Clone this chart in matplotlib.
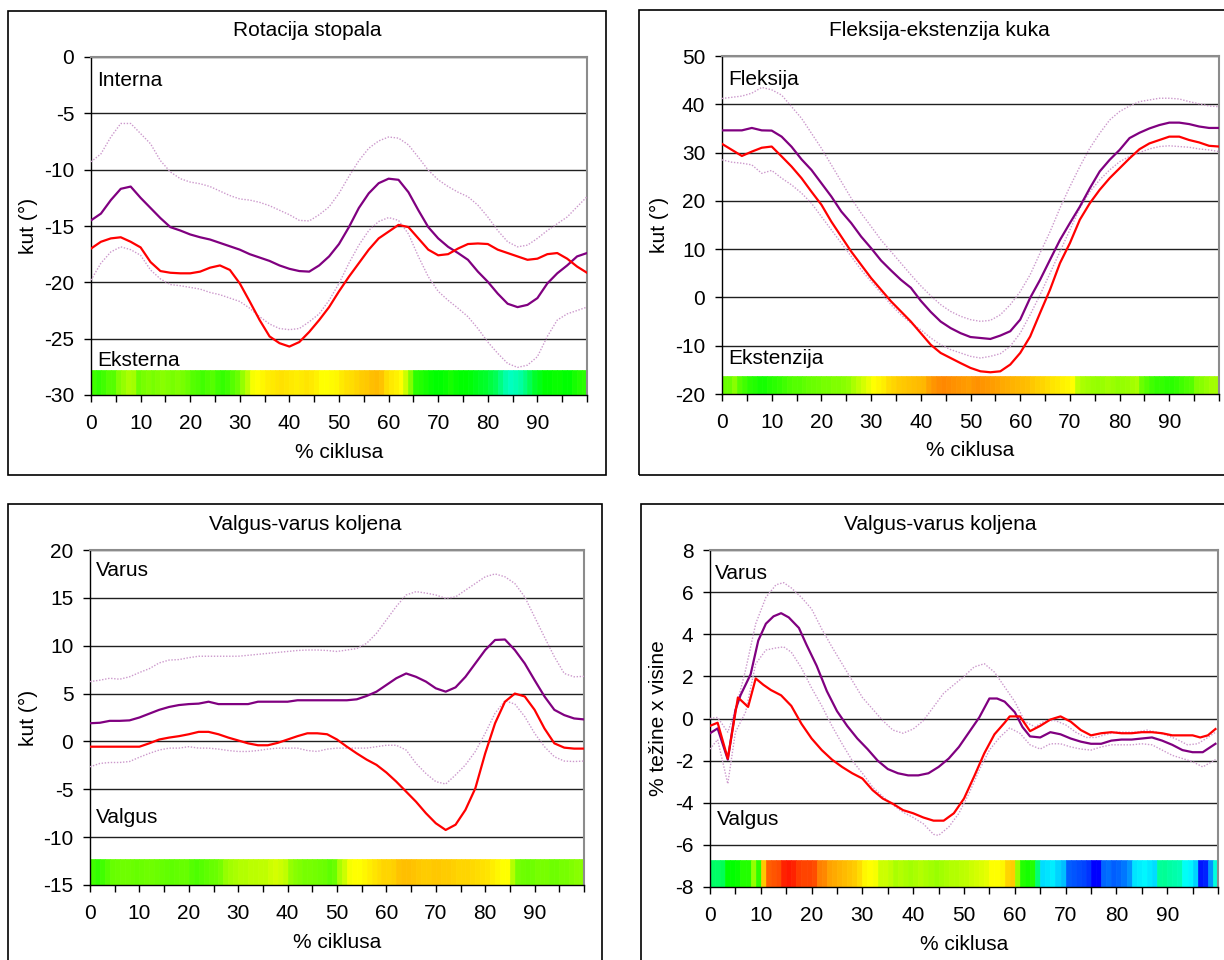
import numpy as np
import matplotlib.pyplot as plt
from matplotlib.colors import hsv_to_rgb
from matplotlib.patches import Rectangle

plt.rcParams['font.family'] = ['Liberation Sans', 'DejaVu Sans']
plt.rcParams['axes.unicode_minus'] = False

# ---- data -------------------------------------------------------------
x_step2 = list(range(0, 101, 2))

# Rotacija stopala
rot_norm = [-14.5, -13.9, -12.7, -11.7, -11.5, -12.5, -13.4, -14.3, -15.1, -15.4,
            -15.75, -16.0, -16.2, -16.5, -16.8, -17.1, -17.5, -17.8, -18.1, -18.5,
            -18.8, -19.0, -19.05, -18.5, -17.7, -16.6, -15.1, -13.4, -12.1, -11.2,
            -10.8, -10.9, -12.0, -13.6, -15.1, -16.1, -16.85, -17.4, -18.0, -19.05,
            -19.95, -21.0, -21.9, -22.2, -22.0, -21.4, -20.1, -19.2, -18.5, -17.7,
            -17.4]
rot_pat = [-17.0, -16.4, -16.1, -16.0, -16.4, -16.9, -18.2, -19.0, -19.15, -19.2,
           -19.2, -19.05, -18.7, -18.5, -18.9, -20.1, -21.7, -23.35, -24.8, -25.4,
           -25.7, -25.3, -24.4, -23.35, -22.2, -20.8, -19.5, -18.3, -17.1, -16.1,
           -15.5, -14.9, -15.1, -16.1, -17.1, -17.6, -17.5, -17.0, -16.6, -16.55,
           -16.6, -17.1, -17.4, -17.7, -18.0, -17.9, -17.5, -17.4, -17.9, -18.6,
           -19.15]
rot_hi = [-9.3, -8.6, -7.1, -5.9, -5.9, -6.8, -7.7, -9.2, -10.2, -10.8,
          -11.1, -11.25, -11.5, -11.9, -12.3, -12.6, -12.7, -12.9, -13.2, -13.6,
          -14.0, -14.5, -14.55, -14.0, -13.3, -12.1, -10.6, -9.2, -8.1, -7.45,
          -7.1, -7.2, -7.8, -8.9, -10.05, -10.9, -11.5, -12.0, -12.4, -13.15,
          -14.2, -15.4, -16.4, -16.85, -16.7, -16.1, -15.4, -14.8, -14.2, -13.3,
          -12.4]
rot_lo = [-19.8, -18.3, -17.3, -16.85, -17.1, -17.6, -18.9, -19.7, -20.2, -20.3,
          -20.45, -20.6, -20.9, -21.1, -21.4, -21.7, -22.3, -23.05, -23.7, -24.1,
          -24.2, -24.1, -23.5, -22.8, -21.6, -20.1, -18.3, -16.7, -15.4, -14.6,
          -14.25, -14.5, -15.7, -17.7, -19.5, -20.8, -21.6, -22.3, -23.05, -24.1,
          -25.3, -26.3, -27.2, -27.55, -27.35, -26.6, -24.8, -23.35, -22.8, -22.5,
          -22.2]
rot_hue = [105, 108, 105, 100, 100, 90, 85, 80, 82,
           95, 92, 90, 92, 90, 88, 90, 92, 90, 92, 95,
           100, 102, 105, 102, 100, 105, 108, 105, 100, 95,
           85, 75, 62, 60, 58, 56,
           55, 54, 53, 54, 55, 56, 55, 54, 55, 57,
           60, 60, 59, 58, 55, 53, 52, 50, 48, 47,
           45, 44, 46, 52, 55, 57, 60, 72, 90,
           110, 112, 115, 118, 120, 120, 118, 115, 118, 120, 120, 122, 125, 128, 130, 135, 140,
           150, 160, 165, 162, 158, 150, 140,
           130, 125, 120, 120, 118, 118, 120, 120, 115, 112, 110]

# Fleksija-ekstenzija kuka
hip_norm = [34.6, 34.6, 34.6, 35.1, 34.6, 34.55, 33.3, 31.2, 28.6, 26.4,
            23.65, 20.9, 17.8, 15.4, 12.6, 10.2, 7.65, 5.6, 3.65, 2.0,
            -0.7, -3.0, -5.0, -6.35, -7.4, -8.2, -8.4, -8.6, -7.9, -7.0,
            -4.6, -0.1, 3.65, 7.8, 11.9, 15.4, 18.8, 22.6, 26.1, 28.5,
            30.55, 33.0, 34.1, 35.0, 35.7, 36.2, 36.2, 35.9, 35.4, 35.1,
            35.1]
hip_pat = [31.8, 30.55, 29.3, 30.2, 31.0, 31.25, 29.2, 27.1, 24.7, 21.9,
           19.2, 15.7, 12.6, 9.5, 6.75, 4.0, 1.6, -0.8, -2.9, -5.0,
           -7.4, -9.8, -11.5, -12.55, -13.6, -14.6, -15.3, -15.5, -15.3, -13.9,
           -11.5, -8.1, -3.2, 1.6, 7.1, 11.25, 16.1, 19.5, 22.3, 24.7,
           26.75, 28.8, 30.7, 31.9, 32.6, 33.3, 33.3, 32.6, 32.1, 31.4,
           31.25]
hip_hi = [41.2, 41.45, 41.7, 42.3, 43.5, 43.0, 41.9, 39.5, 37.1, 34.0,
          30.9, 27.45, 24.0, 20.55, 17.45, 14.7, 11.9, 9.5, 7.1, 4.7,
          2.4, 0.35, -1.5, -2.9, -3.9, -4.6, -4.95, -4.75, -3.6, -1.5,
          1.2, 4.7, 9.2, 13.6, 18.5, 22.95, 27.1, 30.9, 34.0, 36.75,
          38.5, 39.65, 40.55, 40.9, 41.25, 41.25, 41.1, 40.55, 40.1, 39.65,
          39.5]
hip_lo = [28.5, 28.0, 27.8, 27.45, 25.7, 26.3, 24.7, 23.3, 21.6, 19.5,
          16.75, 14.0, 11.25, 8.5, 5.7, 3.3, 0.9, -1.5, -3.6, -5.3,
          -6.7, -8.4, -9.8, -10.8, -11.5, -12.2, -12.55, -12.2, -11.65, -10.1,
          -7.4, -3.6, 0.55, 5.0, 9.5, 14.0, 18.5, 21.9, 24.35, 26.4,
          28.1, 29.2, 30.0, 30.75, 31.25, 31.4, 31.25, 31.1, 30.75, 30.55,
          30.2]
hip_hue = [95, 95, 88, 100, 105,
           110, 112, 115, 115, 112, 110,
           108, 105, 102, 100, 100, 98, 96, 95, 94, 92, 92, 90, 90, 88, 86,
           80, 75, 70, 65, 60, 58, 56,
           52, 50, 48, 47, 46, 45, 44, 43,
           38, 35, 33, 32, 33, 34, 35, 36, 37,
           35, 34, 35, 36, 37, 38,
           40, 41, 42, 43, 44, 45,
           47, 49, 50, 52, 54, 55, 57, 58, 60,
           75, 80, 82, 84, 85, 84, 82, 84, 86, 85, 84, 82, 80,
           95, 100, 105, 108, 108, 110, 110, 108, 105, 102, 100,
           90, 88, 85, 82, 82]

# Valgus-varus koljena (kut)
knee_norm = [1.9, 1.95, 2.15, 2.15, 2.2, 2.5, 2.9, 3.3, 3.6, 3.8,
             3.9, 3.95, 4.15, 3.9, 3.9, 3.9, 3.9, 4.15, 4.15, 4.15,
             4.15, 4.3, 4.3, 4.3, 4.3, 4.3, 4.3, 4.4, 4.75, 5.2,
             5.9, 6.6, 7.1, 6.75, 6.25, 5.55, 5.2, 5.65, 6.75, 8.15,
             9.55, 10.6, 10.65, 9.55, 8.15, 6.4, 4.7, 3.3, 2.75, 2.4,
             2.3]
knee_pat = [-0.55, -0.55, -0.55, -0.55, -0.55, -0.55, -0.2, 0.2, 0.4, 0.55,
            0.75, 1.0, 1.0, 0.75, 0.4, 0.1, -0.2, -0.4, -0.4, -0.15,
            0.2, 0.55, 0.85, 0.85, 0.75, 0.2, -0.55, -1.25, -1.9, -2.45,
            -3.25, -4.2, -5.25, -6.3, -7.5, -8.55, -9.25, -8.7, -7.15, -4.9,
            -1.25, 1.9, 4.15, 5.0, 4.7, 3.3, 1.35, -0.2, -0.65, -0.75,
            -0.75]
knee_hi = [6.25, 6.4, 6.6, 6.5, 6.75, 7.2, 7.6, 8.2, 8.5, 8.55,
           8.75, 8.9, 8.9, 8.9, 8.9, 8.9, 9.0, 9.1, 9.2, 9.3,
           9.4, 9.5, 9.55, 9.55, 9.5, 9.4, 9.55, 9.7, 10.25, 11.3,
           12.7, 14.1, 15.3, 15.65, 15.5, 15.3, 14.95, 15.1, 15.8, 16.5,
           17.2, 17.5, 17.2, 16.5, 15.1, 13.0, 10.9, 8.85, 7.1, 6.75,
           6.8]
knee_lo = [-2.65, -2.3, -2.2, -2.2, -2.1, -1.65, -1.25, -0.9, -0.7, -0.7,
           -0.55, -0.7, -0.7, -0.8, -0.95, -1.05, -1.05, -0.95, -0.8, -0.7,
           -0.7, -0.7, -0.95, -1.05, -0.8, -0.7, -0.7, -0.7, -0.7, -0.55,
           -0.4, -0.4, -0.9, -2.3, -3.35, -4.2, -4.45, -3.5, -2.45, -1.05,
           0.85, 2.95, 4.25, 3.9, 2.6, 0.85, -0.55, -1.6, -2.05, -2.1,
           -2.05]
knee_hue = [105, 108, 105, 100,
            96, 95, 94, 94, 95, 96, 95, 94, 94, 95, 96, 97, 98, 97, 96, 96,
            100, 102, 100, 98, 96, 95, 92,
            85, 82, 80, 78, 78, 76, 76, 75, 75,
            72, 70, 72, 75,
            85, 88, 90, 92, 92, 93, 94, 95, 98, 95,
            80, 72, 62, 60, 60, 58, 56,
            54, 52, 50, 50, 49, 46, 45, 45, 46,
            47, 48, 48, 47, 47, 48, 48, 49, 50, 50, 50, 51, 52,
            53, 54, 56, 58, 60, 60, 78,
            92, 94, 95, 94, 92, 92, 92, 94, 94, 92, 92, 90, 88, 88]

# Valgus-varus koljena (moment, % tezine x visine)
mom_x_norm = [0, 1.5, 3.5, 5, 6, 8, 9.5, 11, 12.5, 14, 15.5, 17.5, 19, 21, 23, 25, 27,
              29, 31, 33, 35, 37, 39, 41, 43, 45, 47, 49, 51, 53, 55, 56.5, 58, 60,
              61.5, 63, 65, 67, 69, 71, 73, 75, 77, 79, 81, 83, 85, 87, 89, 91, 93,
              95, 97, 99.5]
mom_norm = [-0.7, -0.47, -1.95, 0.4, 1.1, 2.1, 3.7, 4.5, 4.85, 5.0, 4.8, 4.3, 3.5, 2.5,
            1.3, 0.35, -0.35, -0.95, -1.45, -2.0, -2.4, -2.6, -2.7, -2.7, -2.6, -2.3, -1.9,
            -1.35, -0.65, 0.05, 0.95, 0.95, 0.8, 0.3, -0.4, -0.85, -0.9, -0.65, -0.75,
            -0.95, -1.1, -1.2, -1.2, -1.05, -1.0, -1.0, -0.95, -0.9, -1.05, -1.25, -1.5,
            -1.6, -1.6, -1.2]
mom_x_pat = [0, 1.5, 3.5, 5.5, 7.5, 9, 10.5, 12, 14, 16, 18, 20, 22, 24, 26, 28, 30, 32,
             34, 36, 38, 40, 42, 44, 46, 48, 50, 52, 54, 56, 58, 59, 61, 63, 65, 67, 69,
             71, 73, 75, 77, 79, 81, 83, 85, 87, 89, 91, 93, 95, 96.5, 98, 99.5]
mom_pat = [-0.35, -0.2, -1.9, 1.0, 0.55, 1.9, 1.6, 1.35, 1.1, 0.6, -0.25, -0.95, -1.5,
           -1.95, -2.3, -2.6, -2.85, -3.4, -3.8, -4.05, -4.35, -4.5, -4.7, -4.85, -4.85,
           -4.5, -3.8, -2.75, -1.65, -0.75, -0.2, 0.1, 0.1, -0.6, -0.35, -0.05, 0.1,
           -0.15, -0.55, -0.8, -0.7, -0.65, -0.7, -0.7, -0.65, -0.65, -0.7, -0.8, -0.8,
           -0.8, -0.9, -0.8, -0.5]
mom_x_hi = [0, 1.5, 3.5, 5, 7, 9, 11, 13, 14.5, 16] + list(range(18, 99, 2)) + [99.5]
mom_hi = [0.0, 0.05, -0.65, 0.4, 2.3, 4.5, 5.75, 6.35, 6.45, 6.2,
          5.75, 5.2, 4.25, 3.4, 2.6, 1.8, 1.0, 0.45, -0.1, -0.55,
          -0.7, -0.5, -0.1, 0.55, 1.2, 1.6, 2.0, 2.45, 2.6, 2.2,
          1.5, 0.8, -0.15, -0.4, -0.1, -0.1, -0.3, -0.65, -0.9, -0.9,
          -0.75, -0.65, -0.65, -0.65, -0.55, -0.65, -0.8, -1.0, -1.25, -1.2,
          -0.9, -0.65]
mom_x_lo = [0, 1.5, 3.5, 5, 7, 9, 11, 13, 14.5, 16] + list(range(18, 45, 2)) + [45] \
    + list(range(47, 98, 2)) + [99.5]
mom_lo = [-1.45, -1.0, -3.1, -0.65, 0.3, 2.6, 3.25, 3.35, 3.4, 3.15,
          2.4, 1.45, 0.6, -0.35, -1.2, -2.0, -2.6, -3.25, -3.7, -4.1,
          -4.45, -4.7, -5.0, -5.5, -5.55,
          -5.15, -4.5, -3.55, -2.45, -1.5, -0.9, -0.45, -0.7, -1.25, -1.45,
          -1.2, -1.2, -1.35, -1.45, -1.5, -1.35, -1.25, -1.25, -1.25, -1.2,
          -1.25, -1.5, -1.75, -1.9, -2.05, -2.3,
          -1.95]
mom_hue = [144, 144, 140, 120, 120, 118, 112, 112, 85, 110, 47,
           22, 20, 18, 8, 6, 8, 14, 16, 16, 18, 30, 32,
           38, 40, 42, 44, 46, 48, 52, 58, 60, 62, 72, 72, 75,
           80, 78, 80, 82, 80, 78, 80, 82, 84, 82, 80, 78, 78, 76, 75,
           72, 70, 68, 66, 60, 60, 58, 50, 48, 85, 112, 115, 112, 148,
           188, 186, 184, 190, 195, 218, 220, 222, 224, 228, 240, 240,
           216, 214, 218, 216, 212, 205, 186, 184, 182, 185, 188,
           156, 155, 158, 160, 162, 178, 182, 190, 235, 232, 205, 172]

# ---- drawing ----------------------------------------------------------
W, H = 1224, 960
fig = plt.figure(figsize=(W / 100, H / 100), dpi=100)
FS = 15


def frame(l, t, r, b):
    fig.patches.append(Rectangle((l / W, 1 - b / H), (r - l) / W, (b - t) / H,
                                 transform=fig.transFigure, fill=False,
                                 ec='black', lw=1.2))


def panel(box, area, title, ylabel, ylab_off, ylim, ystep, bar_top, hues, lines, notes):
    frame(*box)
    l, t, r, b = area
    ax = fig.add_axes([l / W, 1 - b / H, (r - l) / W, (b - t) / H])
    ax.set_xlim(0, 100)
    ax.set_ylim(*ylim)
    ax.set_axisbelow(True)

    xt = list(range(0, 101, 5))
    ax.set_xticks(xt)
    ax.set_xticklabels([str(v) if v % 10 == 0 and v < 100 else '' for v in xt])
    ax.set_yticks(np.arange(ylim[0], ylim[1] + ystep / 2, ystep))
    ax.tick_params(axis='x', length=5, width=1, direction='out', pad=9, labelsize=FS)
    ax.tick_params(axis='y', length=5, width=1, direction='out', pad=7, labelsize=FS)
    ax.grid(axis='y', color='#202020', lw=1)
    for s in ('top', 'right'):
        ax.spines[s].set_color('#8c8c8c')
        ax.spines[s].set_linewidth(1.5)
    for s in ('left', 'bottom'):
        ax.spines[s].set_color('black')
        ax.spines[s].set_linewidth(1)

    cols = [hsv_to_rgb((h / 360.0, 1, 1)) for h in hues]
    ax.bar(np.arange(len(hues)), bar_top - ylim[0], width=1, bottom=ylim[0],
           align='edge', color=cols, edgecolor=cols, linewidth=0.5, zorder=1)

    (xn, norm), (xp, pat), (xh, hi), (xl, lo) = lines
    ax.plot(xh, hi, color='#cc99cc', lw=1, ls=(0, (1, 1.2)), zorder=3)
    ax.plot(xl, lo, color='#cc99cc', lw=1, ls=(0, (1, 1.2)), zorder=3)
    ax.plot(xn, norm, color='#800080', lw=1.6, zorder=4)
    ax.plot(xp, pat, color='#ff0000', lw=1.6, zorder=5)

    for (tx, ty, s) in notes:
        ax.text(tx, ty, s, fontsize=FS, ha='left', va='center', zorder=6)

    fig.text((box[0] + box[2]) / 2 / W, 1 - (box[1] + 20) / H, title,
             fontsize=FS, ha='center', va='center')
    fig.text((l - ylab_off) / W, 1 - (t + b) / 2 / H, ylabel, fontsize=FS,
             rotation=90, ha='center', va='center')
    fig.text((l + r) / 2 / W, 1 - (b + 57) / H, '% ciklusa', fontsize=FS,
             ha='center', va='center')
    return ax


panel((8, 11, 606, 475), (91, 57, 587, 395), 'Rotacija stopala', 'kut (°)', 63,
      (-30, 0), 5, -27.75, rot_hue,
      [(x_step2, rot_norm), (x_step2, rot_pat), (x_step2, rot_hi), (x_step2, rot_lo)],
      [(1.3, -2.1, 'Interna'), (1.3, -26.9, 'Eksterna')])

panel((639, 10, 1240, 475), (722, 56, 1219, 394), 'Fleksija-ekstenzija kuka', 'kut (°)', 63,
      (-20, 50), 10, -16.2, hip_hue,
      [(x_step2, hip_norm), (x_step2, hip_pat), (x_step2, hip_hi), (x_step2, hip_lo)],
      [(1.3, 45.2, 'Fleksija'), (1.3, -12.75, 'Ekstenzija')])

panel((8, 504, 602, 975), (90, 550, 584, 885), 'Valgus-varus koljena', 'kut (°)', 62,
      (-15, 20), 5, -12.25, knee_hue,
      [(x_step2, knee_norm), (x_step2, knee_pat), (x_step2, knee_hi), (x_step2, knee_lo)],
      [(1.2, 17.9, 'Varus'), (1.2, -7.95, 'Valgus')])

panel((641, 504, 1240, 975), (710, 550, 1218, 887), 'Valgus-varus koljena',
      '% težine x visine', 51, (-8, 8), 2, -6.72, mom_hue,
      [(mom_x_norm, mom_norm), (mom_x_pat, mom_pat), (mom_x_hi, mom_hi), (mom_x_lo, mom_lo)],
      [(0.9, 6.9, 'Varus'), (1.3, -4.8, 'Valgus')])

fig.savefig('out.png', dpi=100)
